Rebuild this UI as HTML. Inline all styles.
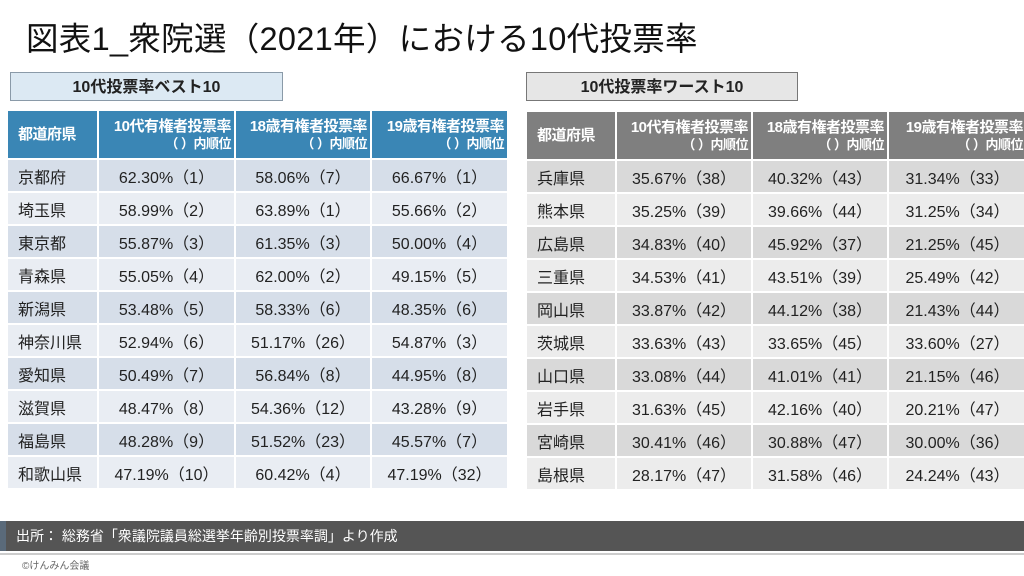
<!DOCTYPE html>
<html><head><meta charset="utf-8"><style>
body{margin:0;width:1024px;height:576px;background:#fff;position:relative;overflow:hidden;font-family:"Liberation Sans","Noto Sans CJK JP",sans-serif;color:#222}
.title{position:absolute;left:26px;top:13px;font-size:32.5px;color:#111;letter-spacing:0.3px}
.cap{position:absolute;top:72px;height:29px;line-height:29px;text-align:center;font-weight:bold;font-size:16px;border:1px solid #8a9aa8;box-sizing:border-box}
table{position:absolute;border-collapse:collapse;table-layout:fixed}
td{border:2px solid #fff;font-size:16px;padding:0;height:31px}
th{border:2px solid #fff;color:#fff;font-size:15px;font-weight:bold;height:47px;padding:0 3px;text-align:right;line-height:17px;white-space:nowrap;letter-spacing:-0.5px}
th small{font-size:13px}
th.p{text-align:left;padding-left:10px;font-size:15px}
td.p{padding-left:10px}
td.v{text-align:center}
#L th{background:#3a86b5}
#L tr:nth-child(even) td{background:#d6dee9}
#L tr:nth-child(odd) td{background:#e9edf3}
#R th{background:#7f7f7f}
#R tr:nth-child(even) td{background:#d9d9d9}
#R tr:nth-child(odd) td{background:#ececec}
.foot{position:absolute;left:0;top:521px;width:1024px;height:30px;background:#555;color:#fff;font-size:14px;line-height:30px;border-left:6px solid #5a6a7a;box-sizing:border-box;padding-left:10px}
.line{position:absolute;left:0;top:553px;width:1024px;height:2px;background:#ccc}
.copy{position:absolute;left:22px;top:557px;font-size:10px;color:#666}
</style></head><body>
<div class="title">図表1_衆院選（2021年）における10代投票率</div>
<div class="cap" style="left:10px;width:273px;background:#dce9f3">10代投票率ベスト10</div>
<div class="cap" style="left:526px;width:272px;background:#e6e6e6;border-color:#777">10代投票率ワースト10</div>
<table id="L" style="left:6px;top:109px;width:501px">
<colgroup><col style="width:91px"><col style="width:137px"><col style="width:136px"><col style="width:137px"></colgroup>
<tr><th class="p">都道府県</th><th>10代有権者投票率<br><small>（ ）内順位</small></th><th>18歳有権者投票率<br><small>（ ）内順位</small></th><th>19歳有権者投票率<br><small>（ ）内順位</small></th></tr>
<tr><td class="p">京都府</td><td class="v">62.30%（1）</td><td class="v">58.06%（7）</td><td class="v">66.67%（1）</td></tr>
<tr><td class="p">埼玉県</td><td class="v">58.99%（2）</td><td class="v">63.89%（1）</td><td class="v">55.66%（2）</td></tr>
<tr><td class="p">東京都</td><td class="v">55.87%（3）</td><td class="v">61.35%（3）</td><td class="v">50.00%（4）</td></tr>
<tr><td class="p">青森県</td><td class="v">55.05%（4）</td><td class="v">62.00%（2）</td><td class="v">49.15%（5）</td></tr>
<tr><td class="p">新潟県</td><td class="v">53.48%（5）</td><td class="v">58.33%（6）</td><td class="v">48.35%（6）</td></tr>
<tr><td class="p">神奈川県</td><td class="v">52.94%（6）</td><td class="v">51.17%（26）</td><td class="v">54.87%（3）</td></tr>
<tr><td class="p">愛知県</td><td class="v">50.49%（7）</td><td class="v">56.84%（8）</td><td class="v">44.95%（8）</td></tr>
<tr><td class="p">滋賀県</td><td class="v">48.47%（8）</td><td class="v">54.36%（12）</td><td class="v">43.28%（9）</td></tr>
<tr><td class="p">福島県</td><td class="v">48.28%（9）</td><td class="v">51.52%（23）</td><td class="v">45.57%（7）</td></tr>
<tr><td class="p">和歌山県</td><td class="v">47.19%（10）</td><td class="v">60.42%（4）</td><td class="v">47.19%（32）</td></tr>
</table>
<table id="R" style="left:525px;top:110px;width:501px">
<colgroup><col style="width:90px"><col style="width:136px"><col style="width:136px"><col style="width:139px"></colgroup>
<tr><th class="p">都道府県</th><th>10代有権者投票率<br><small>（ ）内順位</small></th><th>18歳有権者投票率<br><small>（ ）内順位</small></th><th>19歳有権者投票率<br><small>（ ）内順位</small></th></tr>
<tr><td class="p">兵庫県</td><td class="v">35.67%（38）</td><td class="v">40.32%（43）</td><td class="v">31.34%（33）</td></tr>
<tr><td class="p">熊本県</td><td class="v">35.25%（39）</td><td class="v">39.66%（44）</td><td class="v">31.25%（34）</td></tr>
<tr><td class="p">広島県</td><td class="v">34.83%（40）</td><td class="v">45.92%（37）</td><td class="v">21.25%（45）</td></tr>
<tr><td class="p">三重県</td><td class="v">34.53%（41）</td><td class="v">43.51%（39）</td><td class="v">25.49%（42）</td></tr>
<tr><td class="p">岡山県</td><td class="v">33.87%（42）</td><td class="v">44.12%（38）</td><td class="v">21.43%（44）</td></tr>
<tr><td class="p">茨城県</td><td class="v">33.63%（43）</td><td class="v">33.65%（45）</td><td class="v">33.60%（27）</td></tr>
<tr><td class="p">山口県</td><td class="v">33.08%（44）</td><td class="v">41.01%（41）</td><td class="v">21.15%（46）</td></tr>
<tr><td class="p">岩手県</td><td class="v">31.63%（45）</td><td class="v">42.16%（40）</td><td class="v">20.21%（47）</td></tr>
<tr><td class="p">宮崎県</td><td class="v">30.41%（46）</td><td class="v">30.88%（47）</td><td class="v">30.00%（36）</td></tr>
<tr><td class="p">島根県</td><td class="v">28.17%（47）</td><td class="v">31.58%（46）</td><td class="v">24.24%（43）</td></tr>
</table>
<div class="foot">出所： 総務省「衆議院議員総選挙年齢別投票率調」より作成</div>
<div class="line"></div>
<div class="copy">©けんみん会議</div>
</body></html>
